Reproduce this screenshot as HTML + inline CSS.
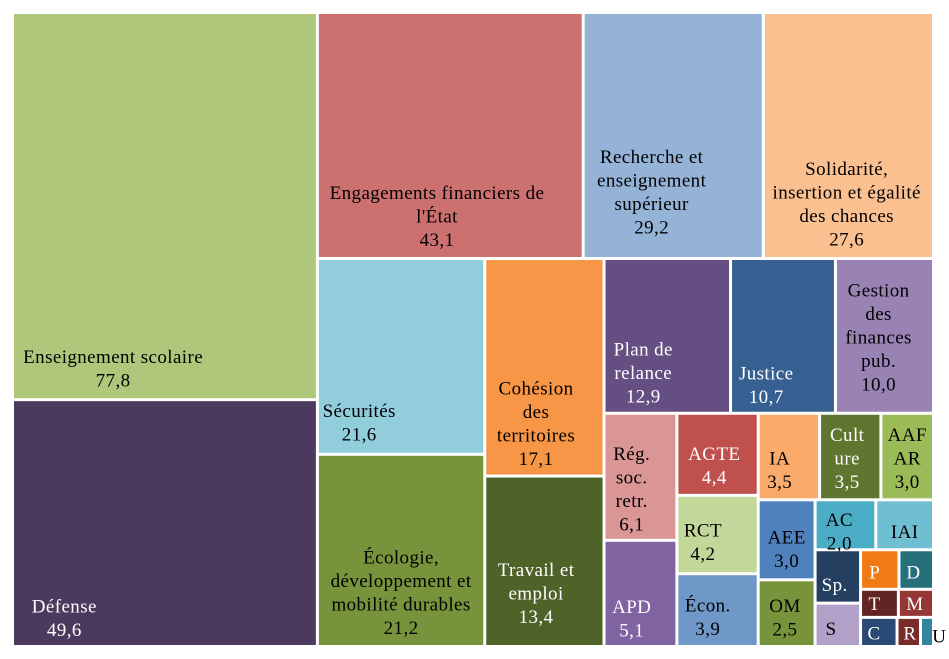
<!DOCTYPE html>
<html><head><meta charset="utf-8"><style>
html,body{margin:0;padding:0;background:#fff;}
svg{display:block;font-family:"Liberation Serif",serif;}
</style></head><body>
<svg id="chart" width="949" height="659" viewBox="0 0 949 659"></svg>
<script>
const names = ["Enseignement scolaire","Défense","Engagements financiers de\nl'État","Recherche et\nenseignement\nsupérieur","Solidarité,\ninsertion et égalité\ndes chances","Sécurités","Écologie,\ndéveloppement et\nmobilité durables","Cohésion\ndes\nterritoires","Travail et\nemploi","Plan de\nrelance","Justice","Gestion\ndes\nfinances\npub.","Rég.\nsoc.\nretr.","APD","AGTE","RCT","Écon.","IA","Cult\nure","AAF\nAR","AEE","OM","AC","IAI","Sp.","S","P","D","T","M","C","R","U"];
const values = [77.8,49.6,43.1,29.2,27.6,21.6,21.2,17.1,13.4,12.9,10.7,10.0,6.1,5.1,4.4,4.2,3.9,3.5,3.5,3.0,3.0,2.5,2.0,1.9,1.6,1.3,1.0,0.9,0.7,0.65,0.7,0.45,0.25];
const showValue = [1,1,1,1,1,1,1,1,1,1,1,1,1,1,1,1,1,1,1,1,1,1,1,0,0,0,0,0,0,0,0,0,0];
const colors = ["#AFC77A","#4B3A5E","#CC7070","#95B3D7","#FAC090","#92CDDC","#77933C","#F79646","#4F6228","#654E82","#376092","#9983B5","#DA9694","#8064A2","#C0504D","#C4D79B","#6F97C8","#FAAA6A","#5F7530","#9BBB59","#4F81BD","#77933C","#4BACC6","#6FBED1","#253F60","#B1A0C7","#F07B14","#26707C","#632523","#953735","#2A4A75","#772C2A","#31859C"];
const textColors = ["#000","#fff","#000","#000","#000","#000","#000","#000","#fff","#fff","#fff","#000","#000","#fff","#fff","#000","#000","#000","#fff","#000","#000","#000","#000","#000","#fff","#000","#fff","#fff","#fff","#fff","#fff","#fff","#000"];
const labelFx = [0.33,0.17,0.45,0.38,0.49,0.25,0.5,0.43,0.43,0.31,0.34,0.44,0.38,0.38,0.46,0.32,0.38,0.35,0.45,0.5,0.5,0.47,0.4,0.5,0.43,0.35,0.37,0.42,0.37,0.47,0.37,0.55,1.45];
const labelFy = [0.92,0.885,0.83,0.73,0.78,0.84,0.72,0.76,0.69,0.74,0.82,0.51,0.6,0.74,0.64,0.6,0.6,0.66,0.52,0.52,0.62,0.57,0.64,0.64,0.66,0.6,0.58,0.58,0.53,0.53,0.55,0.55,0.65];
const tree = ['h',['v',0,1],['v',['h',2,3,4],['h',['v',5,6],['v',7,8],['v',['h',9,10,11],['h',['v',12,13],['v',14,15,16],['v',['h',17,18,19],['h',['v',20,21],['v',['h',22,23],['h',['v',24,25],['v',['h',26,27],['h',28,29],['h',30,31,32]]]]]]]]]]];

const X0=12.5,Y0=12.5,X1=933.5,Y1=646.5;
const svg=document.getElementById('chart');
const NS='http://www.w3.org/2000/svg';
function total(n){return typeof n==='number'?values[n]:n.slice(1).reduce((s,c)=>s+total(c),0);}
function layout(n,x0,y0,x1,y1){
  if(typeof n==='number'){draw(n,x0,y0,x1,y1);return;}
  const t=total(n);let pos=n[0]==='h'?x0:y0;
  n.slice(1).forEach(c=>{
    const f=total(c)/t;
    if(n[0]==='h'){const w=(x1-x0)*f;layout(c,pos,y0,pos+w,y1);pos+=w;}
    else{const h=(y1-y0)*f;layout(c,x0,pos,x1,pos+h);pos+=h;}
  });
}
function slug(s){return s.toLowerCase().normalize('NFD').replace(/[\u0300-\u036f]/g,'').replace(/[^a-z0-9]+/g,'-').replace(/^-|-$/g,'');}
function draw(i,x0,y0,x1,y1){
  const r=document.createElementNS(NS,'rect');
  r.setAttribute('x',x0+1.5);r.setAttribute('y',y0+1.5);
  r.setAttribute('width',Math.max(0,x1-x0-3));r.setAttribute('height',Math.max(0,y1-y0-3));
  r.setAttribute('fill',colors[i]);
  
  
  svg.appendChild(r);
  const lines=names[i].split('\n');
  if(showValue[i])lines.push(values[i].toFixed(1).replace('.',','));
  const lh=23.5;
  const cx=x0+(x1-x0)*labelFx[i],cy=y0+(y1-y0)*labelFy[i];
  const t=document.createElementNS(NS,'text');
  t.setAttribute('text-anchor','middle');t.setAttribute('font-size','19');
  t.setAttribute('letter-spacing','0.4');
  t.setAttribute('fill',textColors[i]);
  
  
  lines.forEach((l,k)=>{
    const s=document.createElementNS(NS,'tspan');
    s.setAttribute('x',cx);
    s.setAttribute('y',cy+(k-(lines.length-1)/2)*lh+6);
    s.textContent=l;t.appendChild(s);
  });
  svg.appendChild(t);
}
layout(tree,X0,Y0,X1,Y1);
</script>
</body></html>
